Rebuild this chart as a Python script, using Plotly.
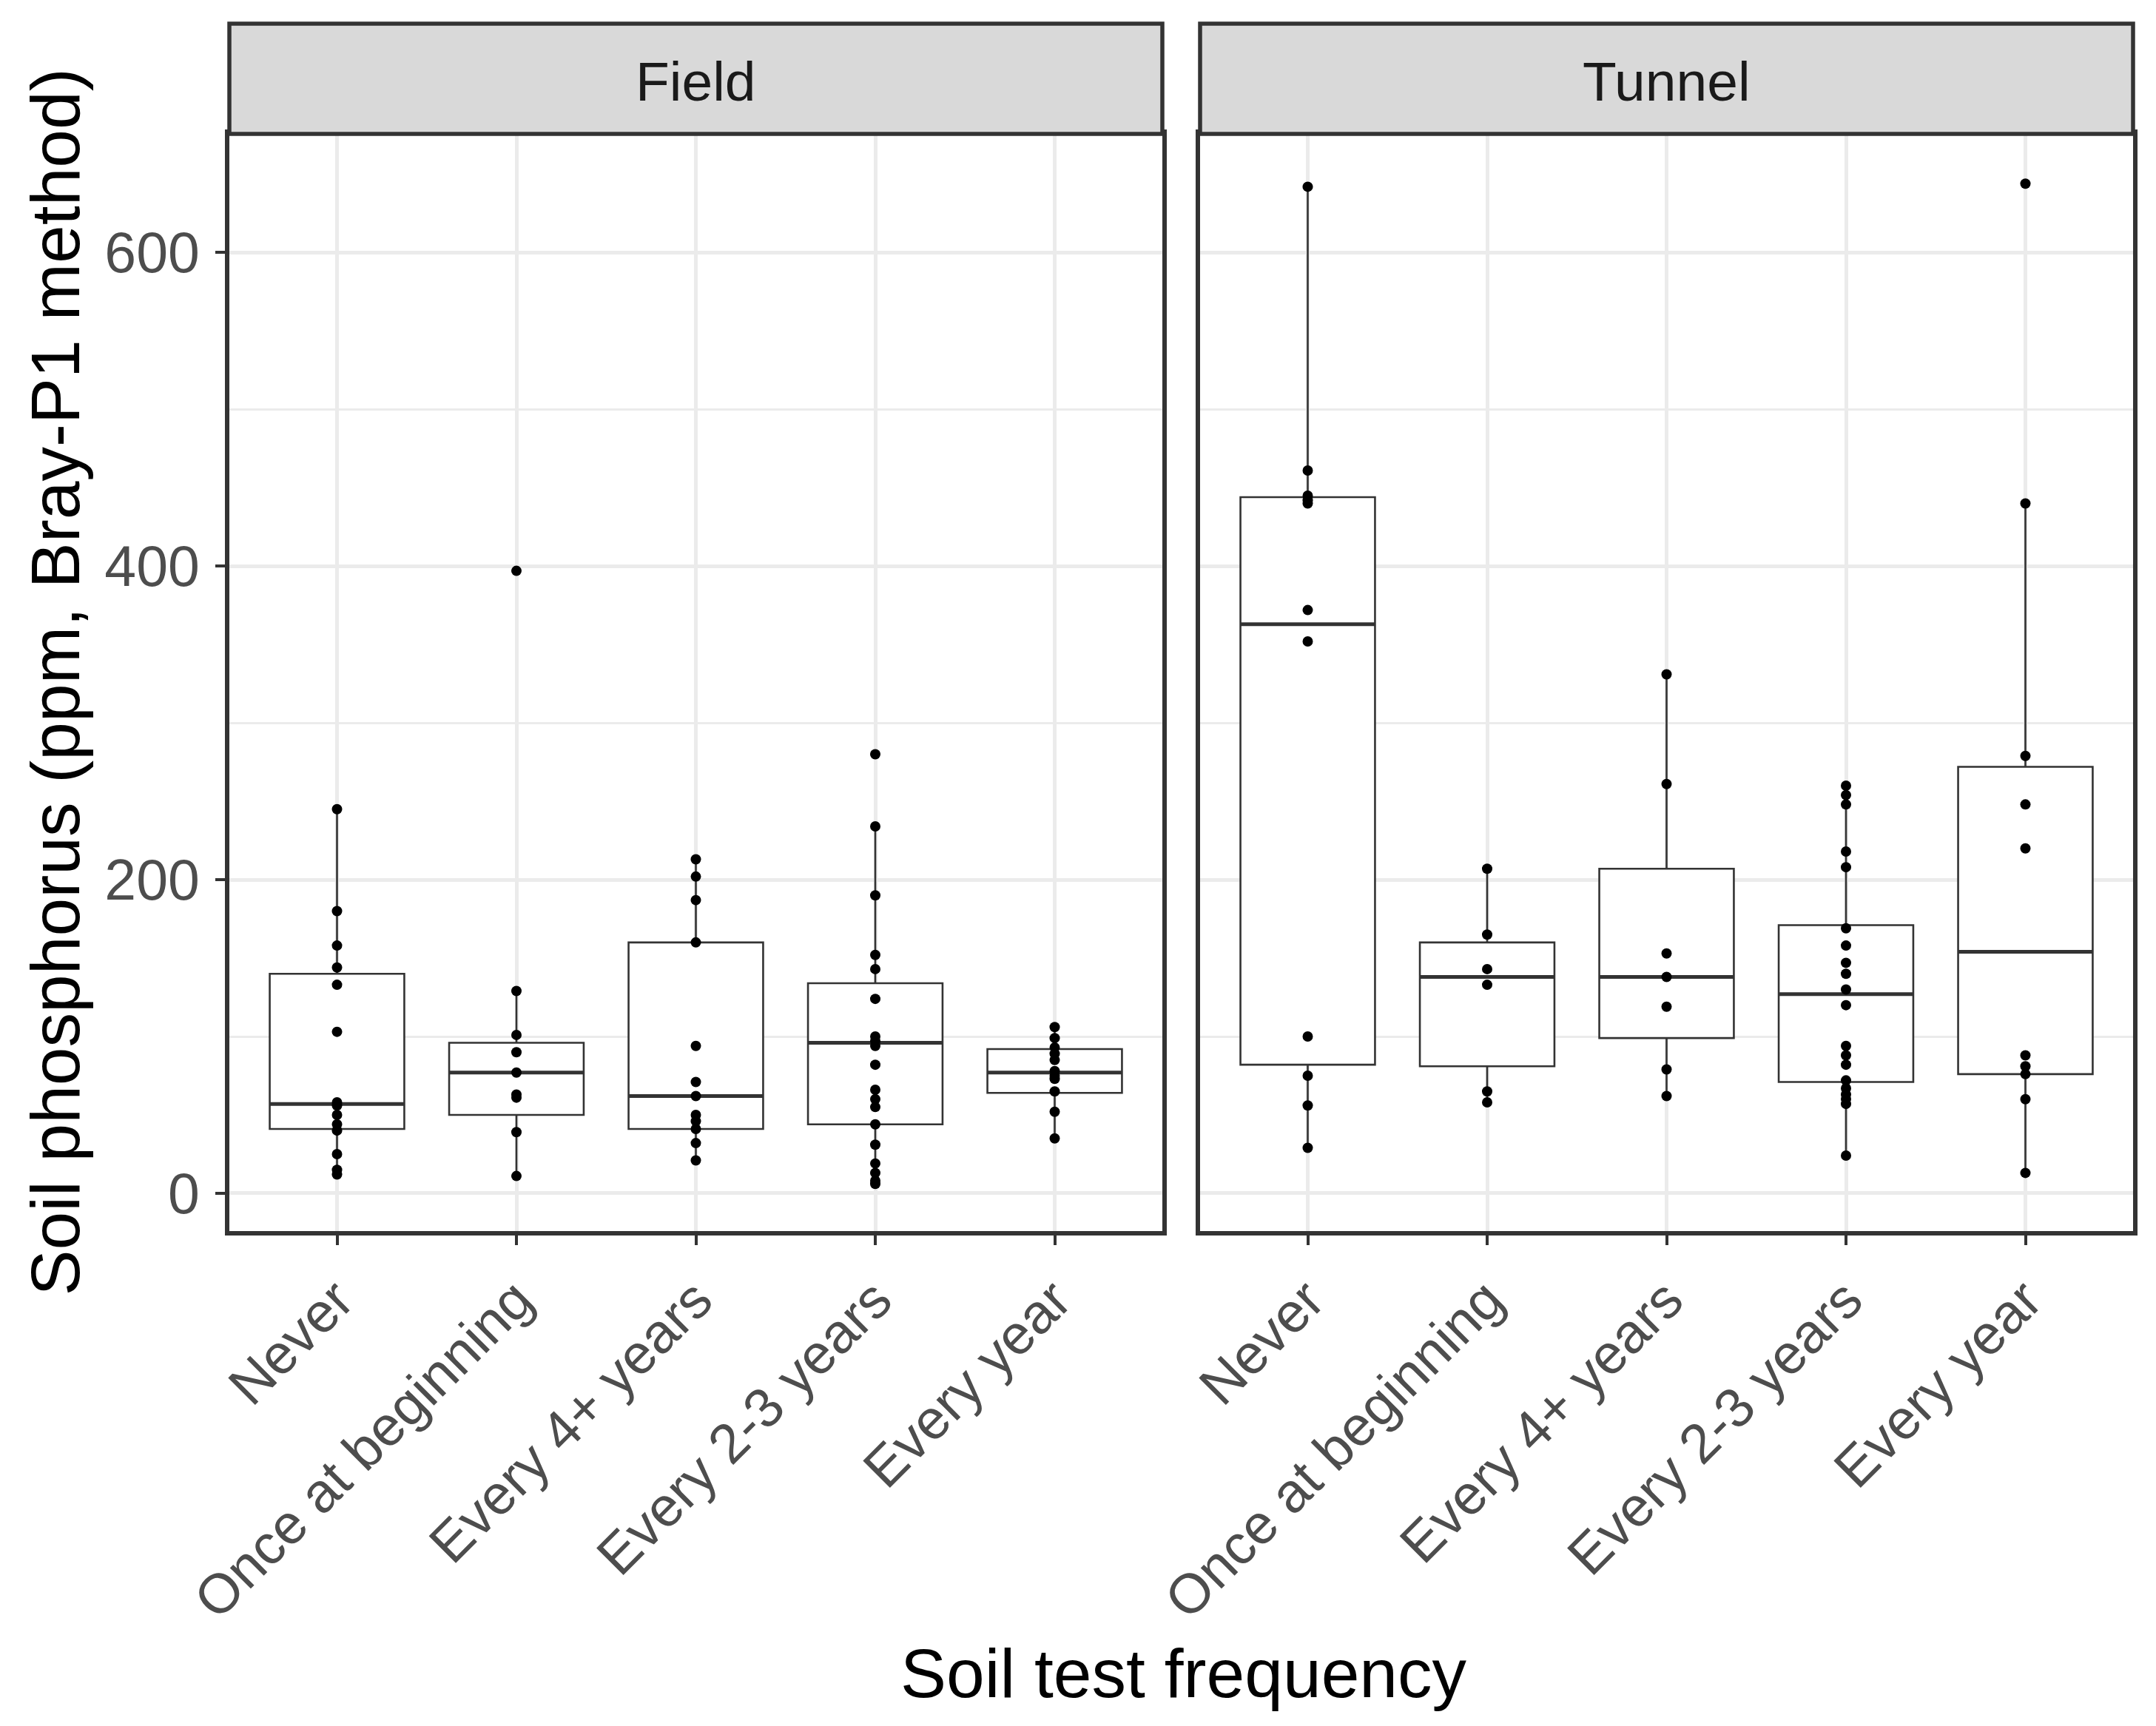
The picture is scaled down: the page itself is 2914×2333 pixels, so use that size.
import plotly.graph_objects as go

# ---------------- data ----------------
categories = ["Never", "Once at beginning", "Every 4+ years", "Every 2-3 years", "Every year"]
facets = ["Field", "Tunnel"]

field_never = [245, 180, 158, 144, 133, 103, 58, 56, 50, 44, 40, 25, 15, 12]
field_once = [397, 129, 101, 90, 77, 63, 61, 39, 11]
field_every4 = [213, 202, 187, 160, 94, 71, 62, 50, 46, 41, 32, 21]
field_every23 = [280, 234, 190, 152, 143, 124, 100, 97, 94, 82, 66, 60, 55, 44, 31, 19, 13, 8, 6]
field_everyyear = [106, 99, 93, 89, 85, 78, 75, 73, 65, 52, 35]

tunnel_never = [642, 461, 445, 442, 440, 372, 352, 100, 75, 56, 29]
tunnel_once = [207, 165, 143, 133, 65, 58]
tunnel_every4 = [331, 261, 153, 138, 119, 79, 62]
tunnel_every23 = [260, 254, 248, 218, 208, 169, 158, 147, 140, 130, 120, 94, 88, 82, 72, 67, 63, 60, 57, 24]
tunnel_everyyear = [644, 440, 279, 248, 220, 88, 81, 76, 60, 13]

# box summaries (ppm)
field_lower = [11, 11, 21, 6, 35]
field_q1 = [41, 50, 41, 44, 64]
field_median = [57, 77, 62, 96, 77]
field_q3 = [140, 96, 160, 134, 92]
field_upper = [245, 131, 213, 234, 106]

tunnel_lower = [29, 58, 62, 24, 13]
tunnel_q1 = [82, 81, 99, 71, 76]
tunnel_median = [363, 138, 138, 127, 154]
tunnel_q3 = [444, 160, 207, 171, 272]
tunnel_upper = [642, 207, 331, 260, 440]

y_ticks = [0, 200, 400, 600]

# ---------------- styling ----------------
W, H = 2914, 2333
OFF = 8  # default page body margin
FONT = "Liberation Sans, Arial, sans-serif"
DARK = "#333333"
GRID = "#EBEBEB"


def px_x(p):
    return (p - OFF) / W


def px_y(p):
    return 1 - (p - OFF) / H


xdom = {"Field": [px_x(310), px_x(1571)], "Tunnel": [px_x(1622), px_x(2883)]}
ydom = [px_y(1664), px_y(181)]
strip_top = px_y(32)

fig = go.Figure()

panel_data = {
    "Field": ([field_never, field_once, field_every4, field_every23, field_everyyear],
              field_lower, field_q1, field_median, field_q3, field_upper, "x", "y"),
    "Tunnel": ([tunnel_never, tunnel_once, tunnel_every4, tunnel_every23, tunnel_everyyear],
               tunnel_lower, tunnel_q1, tunnel_median, tunnel_q3, tunnel_upper, "x2", "y2"),
}

for facet in facets:
    pts, lo, q1, med, q3, up, xa, ya = panel_data[facet]
    fig.add_trace(go.Box(
        x=categories, q1=q1, median=med, q3=q3, lowerfence=lo, upperfence=up,
        width=0.75, whiskerwidth=0, fillcolor="white",
        line=dict(color=DARK, width=2.6), boxpoints=False,
        xaxis=xa, yaxis=ya, showlegend=False, hoverinfo="skip",
    ))
    # thicker median line
    fig.add_trace(go.Box(
        x=categories, q1=med, median=med, q3=med, lowerfence=med, upperfence=med,
        width=0.75, whiskerwidth=0, fillcolor="rgba(0,0,0,0)",
        line=dict(color=DARK, width=5), boxpoints=False,
        xaxis=xa, yaxis=ya, showlegend=False, hoverinfo="skip",
    ))
    xs, ys = [], []
    for cat, vals in zip(categories, pts):
        xs += [cat] * len(vals)
        ys += vals
    fig.add_trace(go.Scatter(
        x=xs, y=ys, mode="markers",
        marker=dict(color="black", size=14, line=dict(width=0)),
        xaxis=xa, yaxis=ya, showlegend=False, hoverinfo="skip",
    ))

xcommon = dict(
    type="category", categoryorder="array", categoryarray=categories,
    range=[-0.6, 4.6], showgrid=True, gridcolor=GRID, gridwidth=5,
    showline=True, linecolor=DARK, linewidth=5.5, mirror=True,
    ticks="outside", ticklen=13, tickwidth=4, tickcolor=DARK,
    tickangle=-45, tickfont=dict(family=FONT, size=75, color="#4D4D4D"),
    zeroline=False, fixedrange=True, automargin=False,
)
ycommon = dict(
    range=[-24.1, 675.7], tickvals=y_ticks, showgrid=True, gridcolor=GRID, gridwidth=5,
    minor=dict(tickvals=[100, 300, 500], showgrid=True, gridcolor=GRID, gridwidth=2.5, ticks=""),
    showline=True, linecolor=DARK, linewidth=5.5, mirror=True,
    zeroline=False, fixedrange=True, automargin=False,
)

fig.update_layout(
    width=W, height=H,
    margin=dict(l=0, r=0, t=0, b=0, autoexpand=False),
    paper_bgcolor="white", plot_bgcolor="white",
    boxmode="overlay",
    font=dict(family=FONT),
    xaxis=dict(domain=xdom["Field"], anchor="y", **xcommon),
    xaxis2=dict(domain=xdom["Tunnel"], anchor="y2", **xcommon),
    yaxis=dict(domain=ydom, anchor="x", ticks="outside", ticklen=13, tickwidth=4, tickcolor=DARK,
               tickfont=dict(family=FONT, size=77, color="#4D4D4D"), ticklabelstandoff=6, **ycommon),
    yaxis2=dict(domain=ydom, anchor="x2", matches="y", showticklabels=False, ticks="", **ycommon),
)

shapes = []
annotations = []
for facet in facets:
    x0, x1 = xdom[facet]
    shapes.append(dict(type="rect", xref="paper", yref="paper", x0=x0, x1=x1, y0=ydom[1], y1=strip_top,
                       fillcolor="#D9D9D9", line=dict(color=DARK, width=5.5), layer="above"))
    annotations.append(dict(text=facet, xref="paper", yref="paper", x=(x0 + x1) / 2,
                            y=(ydom[1] + strip_top) / 2 - 4 / H,
                            showarrow=False, xanchor="center", yanchor="middle",
                            font=dict(family=FONT, size=75, color="#1A1A1A")))

annotations.append(dict(text="Soil test frequency", xref="paper", yref="paper", x=px_x(1600), y=px_y(2262),
                        showarrow=False, xanchor="center", yanchor="middle",
                        font=dict(family=FONT, size=93, color="black")))
annotations.append(dict(text="Soil phosphorus (ppm, Bray-P1 method)", xref="paper", yref="paper",
                        x=px_x(75), y=(ydom[0] + ydom[1]) / 2, textangle=-90,
                        showarrow=False, xanchor="center", yanchor="middle",
                        font=dict(family=FONT, size=93, color="black")))

fig.update_layout(shapes=shapes, annotations=annotations)

fig.write_html("out.html")
